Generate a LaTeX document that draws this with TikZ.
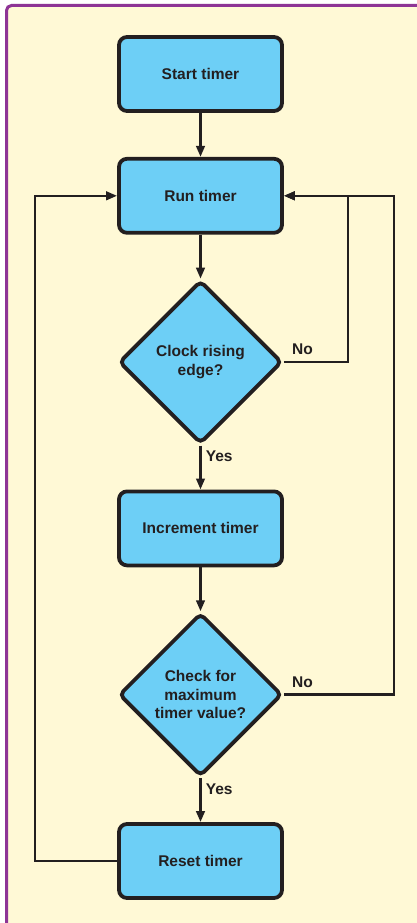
\documentclass[tikz,border=0pt]{standalone}
\usepackage{fontspec}
\setmainfont{Liberation Sans}
\usepackage{xcolor}
\usetikzlibrary{shapes.geometric, arrows.meta, positioning, calc}

\definecolor{boxblue}{RGB}{109,207,246}
\definecolor{inkdark}{RGB}{35,31,32}
\definecolor{paper}{RGB}{255,249,214}
\definecolor{framepurple}{RGB}{142,52,150}

\begin{document}
\begin{tikzpicture}[
    x=1pt, y=-1pt,
    node distance=44pt,
    every node/.style={font=\bfseries\fontsize{15.5}{18.5}\selectfont, text=inkdark},
    block/.style={rectangle, draw=inkdark, fill=boxblue, line width=3.8pt, minimum width=163pt, minimum height=74pt, align=center, rounded corners=8pt},
    decision/.style={diamond, draw=inkdark, fill=boxblue, line width=3.8pt, minimum width=163pt, minimum height=163pt, inner sep=0pt, aspect=1, align=center, rounded corners=5pt},
    lbl/.style={inner sep=4pt},
    arrow/.style={-{Triangle[length=11pt, width=8.5pt]}, line width=2.6pt, draw=inkdark}
]

% Frame
\useasboundingbox (0,0) rectangle (417,923);
\clip (0,0) rectangle (417,923);
\fill[white] (0,0) rectangle (417,923);
\draw[framepurple, line width=3pt, fill=paper, rounded corners=5pt] (6.5,5.5) rectangle (440,950);

% Steps
\node[block] at (200.5,74) (start) {Start timer};
\node[block, below=of start] (run) {Run timer};
\node[decision, below=of run] (edge) {Clock rising\\edge?};
\node[block, below=of edge] (incr) {Increment timer};
\node[decision, below=of incr] (maxval) {Check for\\maximum\\timer value?};
\node[block, below=of maxval] (reset) {Reset timer};

% Loop corners
\coordinate (noA) at ([xshift=64pt]edge.east);
\coordinate (noB) at ([xshift=110pt]maxval.east);
\coordinate (back) at ([xshift=-82pt]reset.west);

% Arrows
\draw[arrow] (start) -- (run);
\draw[arrow] (run) -- (edge);
\draw[arrow] (edge) -- node[lbl, pos=0, below right] {Yes} (incr);
\draw[arrow] (incr) -- (maxval);
\draw[arrow] (maxval) -- node[lbl, pos=0, below right] {Yes} (reset);
\draw[arrow] (edge.east) -- node[lbl, pos=0, above right, xshift=3pt, yshift=2pt] {No} (noA) |- (run.east);
\draw[arrow] (maxval.east) -- node[lbl, pos=0, above right, xshift=3pt, yshift=2pt] {No} (noB) |- (run.east);
\draw[arrow] (reset.west) -- (back) |- (run.west);

\end{tikzpicture}
\end{document}
